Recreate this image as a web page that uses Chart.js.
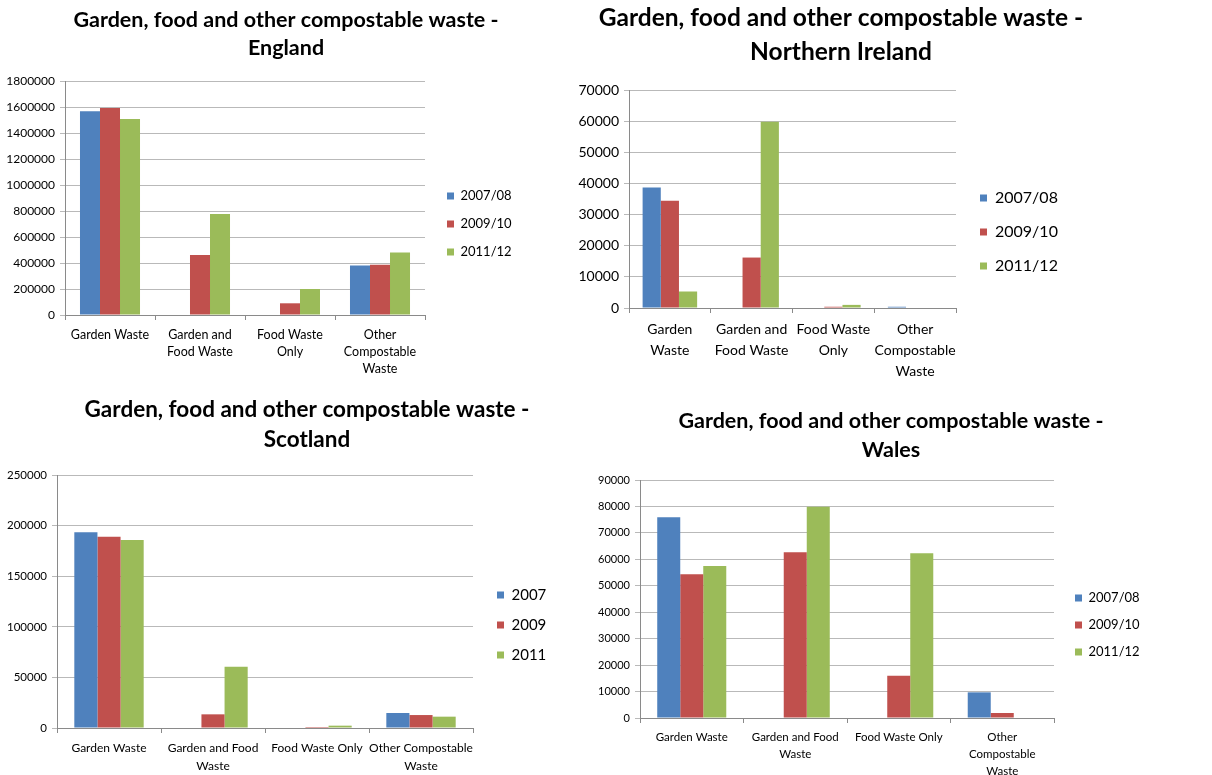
<!DOCTYPE html>
<html>
<head>
<meta charset="utf-8">
<script src="https://cdn.jsdelivr.net/npm/chart.js@4"></script>
<style>
    html, body { margin: 0; padding: 0; background: #fff; }
    body { width: 1212px; height: 775px; position: relative; overflow: hidden; }
    .panel { position: absolute; }
</style>
</head>
<body>
<div class="panel" style="left:0px;top:0px;width:560px;height:385px"><canvas id="englandChart"></canvas></div>
<div class="panel" style="left:560px;top:0px;width:652px;height:385px"><canvas id="niChart"></canvas></div>
<div class="panel" style="left:0px;top:390px;width:600px;height:385px"><canvas id="scotlandChart"></canvas></div>
<div class="panel" style="left:580px;top:390px;width:632px;height:385px"><canvas id="walesChart"></canvas></div>
<script>
// series names
var periodLabels = ['2007/08', '2009/10', '2011/12'];
var yearLabels = ['2007', '2009', '2011'];

// England (tonnes)
var englandCategories = ['Garden Waste', ['Garden and', 'Food Waste'], ['Food Waste', 'Only'], ['Other', 'Compostable', 'Waste']];
var england0708 = [1567000, null, null, 380000];
var england0910 = [1592000, 461000, 90000, 387000];
var england1112 = [1508000, 777000, 200000, 480000];
var englandTicks = { max: 1800000, step: 200000 };

// Northern Ireland
var niCategories = [['Garden', 'Waste'], ['Garden and', 'Food Waste'], ['Food Waste', 'Only'], ['Other', 'Compostable', 'Waste']];
var ni0708 = [38700, null, null, 400];
var ni0910 = [34400, 16200, 400, null];
var ni1112 = [5300, 59800, 1000, null];
var niTicks = { max: 70000, step: 10000 };

// Scotland
var scotlandCategories = ['Garden Waste', ['Garden and Food', 'Waste'], 'Food Waste Only', ['Other Compostable', 'Waste']];
var scotland2007 = [193500, null, null, 14800];
var scotland2009 = [189000, 13500, 1000, 12800];
var scotland2011 = [185700, 60500, 2300, 11200];
var scotlandTicks = { max: 250000, step: 50000 };

// Wales
var walesCategories = ['Garden Waste', ['Garden and Food', 'Waste'], 'Food Waste Only', ['Other', 'Compostable', 'Waste']];
var wales0708 = [75900, null, null, 9700];
var wales0910 = [54400, 62700, 16000, 1900];
var wales1112 = [57500, 79900, 62300, null];
var walesTicks = { max: 90000, step: 10000 };

var colors = ['#4f81bd', '#c0504d', '#9bbb59'];
var FONT = 'Lato, "Open Sans", sans-serif';

// moves title and legend to fixed spots once the layout is done
var placeBlocks = {
    id: 'placeBlocks',
    afterLayout: function (chart, args, opts) {
        var t = chart.titleBlock;
        if (t && opts.titleX !== undefined) {
            t.left = opts.titleX - chart.width / 2;
            t.right = opts.titleX + chart.width / 2;
        }
        var lg = chart.legend;
        if (lg && opts.legendX !== undefined) {
            lg.left = opts.legendX - opts.legendPad;
            lg.top = opts.legendY - opts.legendSize / 2 - opts.legendPad;
            lg.right = chart.width;
            lg.bottom = chart.height;
            lg.width = lg.right - lg.left;
            lg.height = lg.bottom - lg.top;
        }
    }
};

function makeChart(id, cfg) {
    var ctx = document.getElementById(id).getContext('2d');
    var datasets = cfg.series.map(function (values, i) {
        return {
            label: cfg.names[i],
            data: values,
            backgroundColor: colors[i],
            borderWidth: 0,
            categoryPercentage: 0.667,
            barPercentage: 1.0
        };
    });
    return new Chart(ctx, {
        type: 'bar',
        data: { labels: cfg.categories, datasets: datasets },
        plugins: [placeBlocks],
        options: {
            responsive: true,
            maintainAspectRatio: false,
            animation: false,
            layout: { padding: { left: 0, top: 0, bottom: 0, right: cfg.padRight } },
            plugins: {
                title: {
                    display: true,
                    text: ['Garden, food and other compostable waste -', cfg.region],
                    color: '#000',
                    font: { family: FONT, size: cfg.titleSize, weight: 'bold', lineHeight: cfg.titleLine },
                    padding: { top: cfg.titleTop, bottom: cfg.titleBottom }
                },
                legend: {
                    position: 'right',
                    align: 'start',
                    maxWidth: 1,
                    labels: {
                        boxWidth: 7,
                        boxHeight: 7,
                        padding: cfg.legendPad,
                        color: '#000',
                        font: { family: FONT, size: cfg.legendSize }
                    }
                },
                tooltip: { enabled: false },
                placeBlocks: {
                    titleX: cfg.titleX,
                    legendX: cfg.legendX,
                    legendY: cfg.legendY,
                    legendPad: cfg.legendPad,
                    legendSize: cfg.legendSize
                }
            },
            scales: {
                x: {
                    grid: { display: true, drawOnChartArea: false, tickLength: 5, color: '#8a8a8a', offset: true },
                    border: { color: '#8a8a8a' },
                    ticks: {
                        color: '#000',
                        padding: 6,
                        maxRotation: 0,
                        autoSkip: false,
                        font: { family: FONT, size: cfg.catSize, lineHeight: cfg.catLine }
                    },
                    afterFit: function (scale) { scale.height = cfg.xHeight; }
                },
                y: {
                    min: 0,
                    max: cfg.ticks.max,
                    grid: { color: '#b9b9b9', tickLength: 5 },
                    border: { color: '#8a8a8a' },
                    ticks: {
                        stepSize: cfg.ticks.step,
                        color: '#000',
                        padding: 5,
                        font: { family: FONT, size: cfg.tickSize },
                        callback: function (v) { return String(v); }
                    },
                    afterFit: function (scale) { scale.width = cfg.yWidth; }
                }
            }
        }
    });
}

makeChart('englandChart', {
    region: 'England', categories: englandCategories, names: periodLabels,
    series: [england0708, england0910, england1112], ticks: englandTicks,
    titleSize: 21.5, titleLine: '28px', titleTop: 6, titleBottom: 19, titleX: 286,
    yWidth: 65, padRight: 134, xHeight: 70,
    tickSize: 12, catSize: 12.5, catLine: '17px',
    legendSize: 13, legendPad: 15, legendX: 447, legendY: 196
});

makeChart('niChart', {
    region: 'Northern Ireland', categories: niCategories, names: periodLabels,
    series: [ni0708, ni0910, ni1112], ticks: niTicks,
    titleSize: 24.5, titleLine: '34px', titleTop: 1, titleBottom: 21, titleX: 281,
    yWidth: 69, padRight: 255, xHeight: 77,
    tickSize: 14, catSize: 14, catLine: '21px',
    legendSize: 16, legendPad: 18, legendX: 420, legendY: 198
});

makeChart('scotlandChart', {
    region: 'Scotland', categories: scotlandCategories, names: yearLabels,
    series: [scotland2007, scotland2009, scotland2011], ticks: scotlandTicks,
    titleSize: 22.5, titleLine: '30px', titleTop: 5, titleBottom: 20, titleX: 307,
    yWidth: 57, padRight: 126, xHeight: 47,
    tickSize: 11.5, catSize: 12, catLine: '18px',
    legendSize: 15, legendPad: 15, legendX: 497, legendY: 205
});

makeChart('walesChart', {
    region: 'Wales', categories: walesCategories, names: periodLabels,
    series: [wales0708, wales0910, wales1112], ticks: walesTicks,
    titleSize: 21.5, titleLine: '29px', titleTop: 17, titleBottom: 15, titleX: 311,
    yWidth: 60, padRight: 157, xHeight: 57,
    tickSize: 11, catSize: 11.5, catLine: '17px',
    legendSize: 13, legendPad: 14, legendX: 495, legendY: 208
});
</script>
</body>
</html>
